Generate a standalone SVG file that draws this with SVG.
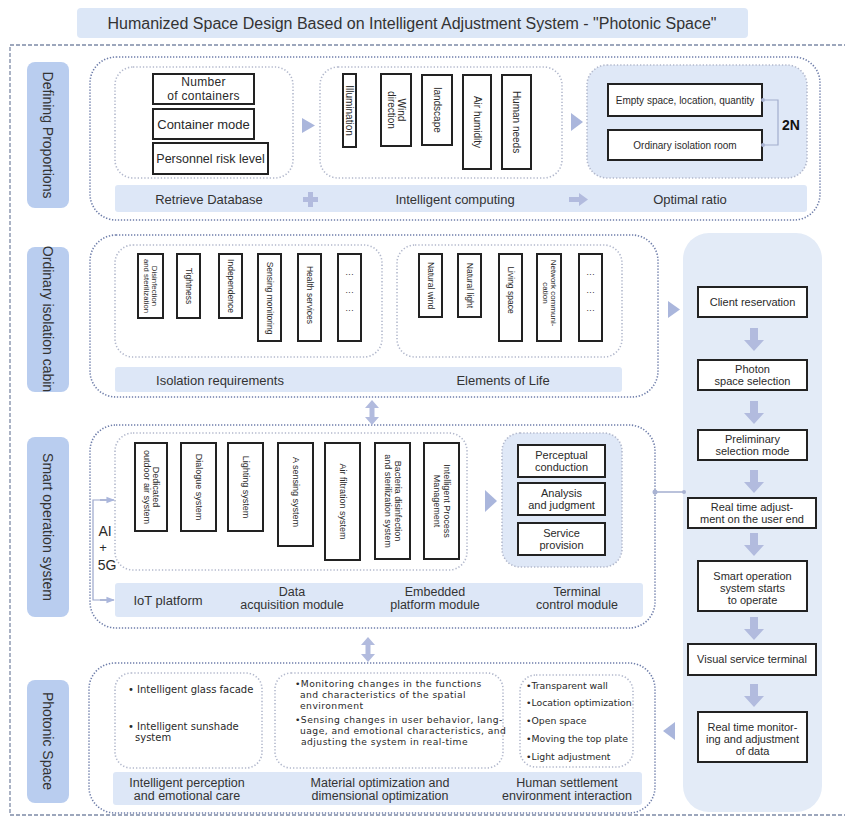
<svg xmlns="http://www.w3.org/2000/svg" width="845" height="817" viewBox="0 0 845 817">
<style>
text{font-family:"Liberation Sans","Noto Sans",Arial,sans-serif;fill:#2a2a2a}
.frame{fill:none;stroke:#7d8aa6;stroke-width:1.3;stroke-dasharray:4 2}
.lbl{fill:#b9cdef}
.lt{font-size:14px;fill:#333}
.sec{fill:#fff;stroke:#6f7eaa;stroke-width:1.6;stroke-dasharray:1.3 1.7}
.inner{fill:none;stroke:#b2b8cc;stroke-width:1.6;stroke-dasharray:1.3 2}
.innerb{fill:#dfe8f7;stroke:#b2b8cc;stroke-width:1.6;stroke-dasharray:1.3 2}
.bar{fill:#dde7f7}
.box{fill:#fff;stroke:#222;stroke-width:2}
.bt{font-size:13px;fill:#333}
.bt2{font-size:12.5px;fill:#333}
.v1{font-size:10px}
.v2{font-size:8.5px}
.v3{font-size:9px}
.fb{font-size:11px}
.tri{fill:#aab6dc}
.arr{fill:#b2bbde}
.con{fill:none;stroke:#8c9ac4;stroke-width:1.2}
.dot{fill:#a9b3d2}
.pa{font-family:"DejaVu Sans","Liberation Sans",sans-serif;font-size:10px}
.pb{font-family:"DejaVu Sans","Liberation Sans",sans-serif;font-size:9.2px;letter-spacing:0.45px}
.pc{font-family:"DejaVu Sans","Liberation Sans",sans-serif;font-size:9.3px}
</style>
<defs>
<marker id="ah" viewBox="0 0 10 10" refX="9" refY="5" markerWidth="7" markerHeight="7" orient="auto"><path d="M0,1 L10,5 L0,9 Z" fill="#aab6dc"/></marker>
<g id="dn"><polygon points="-4,0 4,0 4,12 10,12 0,23 -10,12 -4,12" class="arr"/></g>
<g id="dbl"><polygon points="0,0 7,8 2.5,8 2.5,17 7,17 0,25 -7,17 -2.5,17 -2.5,8 -7,8" class="arr"/></g>
</defs>

<rect x="0" y="0" width="845" height="817" fill="#fff"/>

<g id="title">
<rect x="77" y="8" width="671" height="30" rx="4" fill="#dce7f7"/>
<text x="412" y="28.5" text-anchor="middle" style="font-size:16px;fill:#333">Humanized Space Design Based on Intelligent Adjustment System - "Photonic Space"</text>
</g>

<rect class="frame" x="10" y="45" width="850" height="770"/>

<!-- Section labels -->
<g id="label-defining"><rect class="lbl" x="27" y="62" width="42" height="146" rx="8"/><text class="lt" transform="translate(48,135) rotate(90)" text-anchor="middle" dominant-baseline="central">Defining Proportions</text></g>
<g id="label-ordinary"><rect class="lbl" x="27" y="247" width="42" height="145" rx="8"/><text class="lt" transform="translate(48,319) rotate(90)" text-anchor="middle" dominant-baseline="central">Ordinary isolation cabin</text></g>
<g id="label-smart"><rect class="lbl" x="27" y="437" width="42" height="180" rx="8"/><text class="lt" transform="translate(48,527) rotate(90)" text-anchor="middle" dominant-baseline="central">Smart operation system</text></g>
<g id="label-photonic"><rect class="lbl" x="27" y="680" width="42" height="123" rx="8"/><text class="lt" transform="translate(48,741) rotate(90)" text-anchor="middle" dominant-baseline="central">Photonic Space</text></g>

<!-- Section 1 -->
<g id="sec-defining">
<rect class="sec" x="90" y="57" width="730" height="163" rx="26"/>
<rect class="inner" x="115" y="67" width="178" height="111" rx="18"/>
<rect class="inner" x="320" y="67" width="242" height="111" rx="18"/>
<rect class="innerb" x="587" y="65" width="220" height="113" rx="20"/>
<rect class="bar" x="115" y="185" width="692" height="27" rx="3"/>
<text class="bt" x="209" y="204" text-anchor="middle">Retrieve Database</text>
<text class="bt" x="455" y="204" text-anchor="middle">Intelligent computing</text>
<text class="bt" x="690" y="204" text-anchor="middle">Optimal ratio</text>
<polygon points="308,192 313,192 313,197 318,197 318,202 313,202 313,207 308,207 308,202 303,202 303,197 308,197" class="arr"/>
<polygon points="569,197 579,197 579,193 588,199.5 579,206 579,202 569,202" class="arr"/>
</g>
<g id="n-containers"><rect class="box" x="153" y="74" width="101" height="30"/><text x="203.5" y="86" text-anchor="middle" style="font-size:12px;letter-spacing:0.3px">Number</text><text x="203.5" y="100" text-anchor="middle" style="font-size:12px;letter-spacing:0.3px">of containers</text></g>
<g id="n-mode"><rect class="box" x="153" y="109" width="101" height="30"/><text x="203.5" y="129" text-anchor="middle" style="font-size:13px">Container mode</text></g>
<g id="n-risk"><rect class="box" x="153" y="143" width="115" height="31"/><text x="210.5" y="163" text-anchor="middle" style="font-size:12.5px">Personnel risk level</text></g>
<polygon class="tri" points="302,118 315,125.5 302,133"/>
<g id="n-illum"><rect class="box" x="343" y="74" width="13" height="73"/><text class="v1" transform="translate(349.5,110.5) rotate(90)" text-anchor="middle" dominant-baseline="central">Illumination</text></g>
<g id="n-wind"><rect class="box" x="381" y="74" width="30" height="72"/><text class="v1" transform="translate(396,110) rotate(90)" text-anchor="middle"><tspan x="0" y="-2">Wind</tspan><tspan x="0" y="8">direction</tspan></text></g>
<g id="n-landscape"><rect class="box" x="422" y="75" width="30" height="70"/><text class="v1" transform="translate(437,110) rotate(90)" text-anchor="middle" dominant-baseline="central">landscape</text></g>
<g id="n-air"><rect class="box" x="463" y="75" width="28" height="94"/><text class="v1" transform="translate(477,122) rotate(90)" text-anchor="middle" dominant-baseline="central">Air humidity</text></g>
<g id="n-human"><rect class="box" x="502" y="75" width="29" height="94"/><text class="v1" transform="translate(516.5,122) rotate(90)" text-anchor="middle" dominant-baseline="central">Human needs</text></g>
<polygon class="tri" points="571,113 583,122 571,131"/>
<g id="n-empty"><rect class="box" x="608" y="84" width="154" height="32"/><text x="685" y="104" text-anchor="middle" style="font-size:10px">Empty space, location, quantity</text></g>
<g id="n-room"><rect class="box" x="608" y="130" width="154" height="30"/><text x="685" y="149" text-anchor="middle" style="font-size:10px">Ordinary isolation room</text></g>
<text x="791" y="130" text-anchor="middle" style="font-size:14px;font-weight:bold;fill:#111">2N</text>

<!-- Section 2 -->
<g id="sec-ordinary">
<rect class="sec" x="90" y="235" width="568" height="162" rx="26"/>
<rect class="inner" x="115" y="245" width="267" height="112" rx="18"/>
<rect class="inner" x="397" y="245" width="225" height="112" rx="18"/>
<rect class="bar" x="115" y="367" width="507" height="25" rx="3"/>
<text class="bt" x="220" y="385" text-anchor="middle">Isolation requirements</text>
<text class="bt" x="503" y="385" text-anchor="middle">Elements of Life</text>
</g>
<g id="n-disinf"><rect class="box" x="138" y="254" width="25" height="64"/><text class="v2" transform="translate(150.5,286) rotate(90)" text-anchor="middle" style="font-size:7.8px"><tspan x="0" y="-1.5">Disinfection</tspan><tspan x="0" y="6.5">and sterilization</tspan></text></g>
<g id="n-tight"><rect class="box" x="177" y="254" width="23" height="64"/><text class="v2" transform="translate(188.5,286) rotate(90)" text-anchor="middle" dominant-baseline="central">Tightness</text></g>
<g id="n-indep"><rect class="box" x="219" y="254" width="23" height="64"/><text class="v2" transform="translate(230.5,286) rotate(90)" text-anchor="middle" dominant-baseline="central">Independence</text></g>
<g id="n-sensing"><rect class="box" x="258" y="254" width="23" height="87"/><text class="v2" transform="translate(269.5,298) rotate(90)" text-anchor="middle" dominant-baseline="central">Sensing monitoring</text></g>
<g id="n-health"><rect class="box" x="298" y="254" width="23" height="87"/><text class="v2" transform="translate(309.5,295) rotate(90)" text-anchor="middle" dominant-baseline="central">Health services</text></g>
<g id="n-dots1"><rect class="box" x="338" y="254" width="23" height="87"/><text class="v2" x="349.5" y="277" text-anchor="middle">···</text><text class="v2" x="349.5" y="295" text-anchor="middle">···</text><text class="v2" x="349.5" y="313" text-anchor="middle">···</text></g>
<g id="n-natwind"><rect class="box" x="419" y="254" width="23" height="63"/><text class="v2" transform="translate(430.5,285.5) rotate(90)" text-anchor="middle" dominant-baseline="central">Natural wind</text></g>
<g id="n-natlight"><rect class="box" x="458" y="254" width="23" height="63"/><text class="v2" transform="translate(469.5,285.5) rotate(90)" text-anchor="middle" dominant-baseline="central">Natural light</text></g>
<g id="n-living"><rect class="box" x="499" y="254" width="23" height="87"/><text class="v2" transform="translate(510.5,290) rotate(90)" text-anchor="middle" dominant-baseline="central">Living space</text></g>
<g id="n-network"><rect class="box" x="537" y="254" width="24" height="87"/><text class="v2" transform="translate(549,293) rotate(90)" text-anchor="middle" style="font-size:8px"><tspan x="0" y="-1.5">Network communi-</tspan><tspan x="0" y="6.5">cation</tspan></text></g>
<g id="n-dots2"><rect class="box" x="579" y="254" width="23" height="87"/><text class="v2" x="590.5" y="277" text-anchor="middle">···</text><text class="v2" x="590.5" y="295" text-anchor="middle">···</text><text class="v2" x="590.5" y="313" text-anchor="middle">···</text></g>
<polygon class="tri" points="668,301 680,309.5 668,318"/>

<!-- Right flow panel -->
<g id="panel-flow">
<rect x="683" y="233" width="139" height="579" rx="26" fill="#e3ebf7"/>
</g>
<g id="f-client"><rect class="box" x="698" y="287" width="109" height="30"/><text class="fb" x="752.5" y="306" text-anchor="middle">Client reservation</text></g>
<g id="f-photon"><rect class="box" x="698" y="360" width="109" height="30"/><text class="fb" x="752.5" y="373" text-anchor="middle">Photon</text><text class="fb" x="752.5" y="385" text-anchor="middle">space selection</text></g>
<g id="f-prelim"><rect class="box" x="698" y="430" width="109" height="30"/><text class="fb" x="752.5" y="443" text-anchor="middle">Preliminary</text><text class="fb" x="752.5" y="455" text-anchor="middle">selection mode</text></g>
<g id="f-realtime"><rect class="box" x="688" y="498" width="128" height="30"/><text class="fb" x="752" y="511" text-anchor="middle">Real time adjust-</text><text class="fb" x="752" y="523" text-anchor="middle">ment on the user end</text></g>
<g id="f-smart"><rect class="box" x="698" y="561" width="109" height="50"/><text class="fb" x="752.5" y="580" text-anchor="middle">Smart operation</text><text class="fb" x="752.5" y="592" text-anchor="middle">system starts</text><text class="fb" x="752.5" y="604" text-anchor="middle">to operate</text></g>
<g id="f-visual"><rect class="box" x="688" y="644" width="128" height="31"/><text class="fb" x="752" y="663" text-anchor="middle">Visual service terminal</text></g>
<g id="f-monitor"><rect class="box" x="698" y="712" width="109" height="50"/><text class="fb" x="752.5" y="731" text-anchor="middle">Real time monitor-</text><text class="fb" x="752.5" y="743" text-anchor="middle">ing and adjustment</text><text class="fb" x="752.5" y="755" text-anchor="middle">of data</text></g>

<!-- Section 3 -->
<g id="sec-smart">
<rect class="sec" x="90" y="425" width="565" height="203" rx="26"/>
<rect class="inner" x="115" y="433" width="352" height="137" rx="18"/>
<rect class="innerb" x="502" y="433" width="120" height="134" rx="18"/>
<rect class="bar" x="115" y="583" width="528" height="34" rx="3"/>
<text class="bt" x="168" y="605" text-anchor="middle">IoT platform</text>
<text class="bt2" x="292" y="596" text-anchor="middle">Data</text><text class="bt2" x="292" y="609" text-anchor="middle">acquisition module</text>
<text class="bt2" x="435" y="596" text-anchor="middle">Embedded</text><text class="bt2" x="435" y="609" text-anchor="middle">platform module</text>
<text class="bt2" x="577" y="596" text-anchor="middle">Terminal</text><text class="bt2" x="577" y="609" text-anchor="middle">control module</text>
<text x="105" y="536" text-anchor="middle" style="font-size:14px">AI</text>
<text x="103" y="552" text-anchor="middle" style="font-size:13px">+</text>
<text x="107" y="570" text-anchor="middle" style="font-size:14px">5G</text>
</g>
<g id="n-dedicated"><rect class="box" x="135" y="443" width="32" height="88"/><text class="v3" transform="translate(151,487) rotate(90)" text-anchor="middle"><tspan x="0" y="-2">Dedicated</tspan><tspan x="0" y="7.5">outdoor air system</tspan></text></g>
<g id="n-dialogue"><rect class="box" x="181" y="443" width="35" height="88"/><text class="v3" transform="translate(198.5,487) rotate(90)" text-anchor="middle" dominant-baseline="central">Dialogue system</text></g>
<g id="n-lighting"><rect class="box" x="228" y="443" width="35" height="88"/><text class="v3" transform="translate(245.5,487) rotate(90)" text-anchor="middle" dominant-baseline="central">Lighting system</text></g>
<g id="n-asensing"><rect class="box" x="278" y="443" width="35" height="103"/><text class="v3" transform="translate(295.5,492) rotate(90)" text-anchor="middle" dominant-baseline="central">A sensing system</text></g>
<g id="n-airfilt"><rect class="box" x="325" y="443" width="35" height="117"/><text class="v3" transform="translate(342.5,501.5) rotate(90)" text-anchor="middle" dominant-baseline="central">Air filtration system</text></g>
<g id="n-bacteria"><rect class="box" x="375" y="443" width="35" height="116"/><text class="v3" transform="translate(392.5,501) rotate(90)" text-anchor="middle"><tspan x="0" y="-2">Bacteria disinfection</tspan><tspan x="0" y="7.5">and sterilization system</tspan></text></g>
<g id="n-ipm"><rect class="box" x="424" y="443" width="35" height="116"/><text class="v3" transform="translate(441.5,501) rotate(90)" text-anchor="middle"><tspan x="0" y="-2">Intelligent Process</tspan><tspan x="0" y="7.5">Management</tspan></text></g>
<polygon class="tri" points="485,490 497,501 485,512"/>
<g id="n-percep"><rect class="box" x="518" y="445" width="87" height="32"/><text x="561.5" y="459" text-anchor="middle" style="font-size:11px">Perceptual</text><text x="561.5" y="471" text-anchor="middle" style="font-size:11px">conduction</text></g>
<g id="n-analysis"><rect class="box" x="518" y="483" width="87" height="32"/><text x="561.5" y="497" text-anchor="middle" style="font-size:11px">Analysis</text><text x="561.5" y="509" text-anchor="middle" style="font-size:11px">and judgment</text></g>
<g id="n-service"><rect class="box" x="518" y="523" width="87" height="32"/><text x="561.5" y="537" text-anchor="middle" style="font-size:11px">Service</text><text x="561.5" y="549" text-anchor="middle" style="font-size:11px">provision</text></g>

<!-- Section 4 -->
<g id="sec-photonic">
<rect class="sec" x="89" y="663" width="566" height="150" rx="26"/>
<rect class="inner" x="115" y="673" width="147" height="95" rx="16"/>
<rect class="inner" x="275" y="673" width="228" height="95" rx="16"/>
<rect class="inner" x="520" y="675" width="113" height="92" rx="16"/>
<rect class="bar" x="113" y="772" width="529" height="33" rx="3"/>
<text class="bt2" x="187" y="787" text-anchor="middle">Intelligent perception</text><text class="bt2" x="187" y="800" text-anchor="middle">and emotional care</text>
<text class="bt2" x="380" y="787" text-anchor="middle">Material optimization and</text><text class="bt2" x="380" y="800" text-anchor="middle">dimensional optimization</text>
<text class="bt2" x="567" y="787" text-anchor="middle">Human settlement</text><text class="bt2" x="567" y="800" text-anchor="middle">environment interaction</text>
<text class="pa" x="128" y="693">• Intelligent glass facade</text>
<text class="pa" x="128" y="730">• Intelligent sunshade</text><text class="pa" x="135" y="741">system</text>
<text class="pb" x="295" y="687">•Monitoring changes in the functions</text>
<text class="pb" x="300" y="698">and characteristics of the spatial</text>
<text class="pb" x="300" y="709">environment</text>
<text class="pb" x="295" y="723">•Sensing changes in user behavior, lang-</text>
<text class="pb" x="300" y="734">uage, and emotional characteristics, and</text>
<text class="pb" x="301" y="745">adjusting the system in real-time</text>
<text class="pc" x="526" y="689">•Transparent wall</text>
<text class="pc" x="526" y="706">•Location optimization</text>
<text class="pc" x="526" y="724">•Open space</text>
<text class="pc" x="526" y="742">•Moving the top plate</text>
<text class="pc" x="526" y="760">•Light adjustment</text>
</g>
<polygon class="tri" points="675,722 663,731 675,740"/>

<!-- Connectors -->
<g id="connectors">
<polyline class="con" points="762,100 778,100 778,145 762,145" style="stroke:#a3aecd"/>
<circle class="dot" cx="763" cy="100" r="2"/><circle class="dot" cx="763" cy="145" r="2"/>
<use href="#dbl" x="372" y="400"/>
<use href="#dbl" x="368" y="637"/>
<line class="con" x1="655" y1="492" x2="685" y2="492"/>
<circle class="dot" cx="655" cy="492" r="2.5"/><circle class="dot" cx="684" cy="492" r="2"/>
<polyline class="con" points="113,500 93,500 93,600 113,600" style="stroke:#9aa6cc"/>
<line class="con" x1="100" y1="500" x2="114" y2="500" marker-end="url(#ah)" style="stroke:#9aa6cc"/>
<line class="con" x1="100" y1="600" x2="114" y2="600" marker-end="url(#ah)" style="stroke:#9aa6cc"/>
<use href="#dn" x="754" y="328"/>
<use href="#dn" x="754" y="401"/>
<use href="#dn" x="754" y="470"/>
<use href="#dn" x="754" y="533"/>
<use href="#dn" x="754" y="617"/>
<use href="#dn" x="754" y="684"/>
</g>
</svg>
